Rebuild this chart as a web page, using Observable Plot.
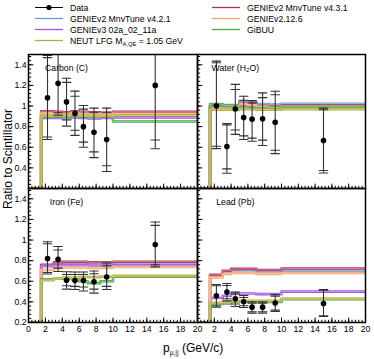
<!DOCTYPE html>
<html><head><meta charset="utf-8">
<script src="https://cdn.jsdelivr.net/npm/d3@7"></script>
<script src="https://cdn.jsdelivr.net/npm/@observablehq/plot@0.6"></script>
<style>
body{margin:0;background:#fff;}
#c{position:relative;width:374px;height:359px;overflow:hidden;font-family:"Liberation Sans",Arial,sans-serif;background:#fff;}
#c > svg, #c > .pw{position:absolute;}
</style>
</head><body><div id="c"></div>
<script>
// ---- bins and data positions ----
const binEdges = [0, 1.5, 3, 4, 5, 6, 7, 8.5, 10, 20];
const dataP = [2.25, 3.5, 4.5, 5.5, 6.5, 7.75, 9.25, 15];
const targetNames = ["Carbon (C)", "Water (H₂O)", "Iron (Fe)", "Lead (Pb)"];
const modelNames = ["GENIEv2 MnvTune v4.2.1", "GENIEv3 02a_02_11a", "NEUT LFG M", "GENIEv2 MnvTune v4.3.1", "GENIEv2.12.6", "GiBUU"];
const modelColors = ["#6f98dc", "#a352e6", "#b3ab3a", "#b0305a", "#f3a46c", "#45a848"];

// ---- Carbon ----
const carbonRatio   = [1.08, 1.22, 1.04, 0.93, 0.80, 0.745, 0.675, 1.20];
const carbonStatLo  = [0.70, 0.935, 0.865, 0.765, 0.65, 0.555, 0.42, 0.67];
const carbonStatHi  = [1.47, 1.505, 1.23, 1.095, 0.97, 0.94, 0.94, 1.73];
const carbonTotLo   = [0.675, 0.91, 0.805, 0.715, 0.60, 0.50, 0.365, 0.585];
const carbonTotHi   = [1.49, 1.53, 1.27, 1.145, 1.005, 0.98, 0.98, 1.815];
const carbonV421    = [0, 0.92, 0.915, 0.91, 0.92, 0.915, 0.91, 0.915, 0.905];
const carbonV3      = [0, 0.885, 0.885, 0.88, 0.89, 0.885, 0.88, 0.885, 0.89];
const carbonNEUT    = [0, 0.905, 0.91, 0.91, 0.915, 0.91, 0.905, 0.905, 0.91];
const carbonV431    = [0, 0.95, 0.945, 0.94, 0.95, 0.945, 0.94, 0.935, 0.945];
const carbonV2126   = [0, 0.93, 0.925, 0.92, 0.93, 0.925, 0.92, 0.92, 0.925];
const carbonGiBUU   = [0, 0.895, 0.90, 0.895, 0.91, 0.90, 0.895, 0.90, 0.85];

// ---- Water ----
const waterRatio  = [1.003, 0.607, 0.971, 0.889, 0.873, 0.876, 0.843, 0.666];
const waterStatLo = [0.61, 0.39, 0.767, 0.711, 0.689, 0.669, 0.571, 0.374];
const waterStatHi = [1.42, 0.817, 1.16, 1.056, 1.03, 1.082, 1.109, 0.964];
const waterTotLo  = [0.587, 0.348, 0.725, 0.676, 0.659, 0.617, 0.538, 0.351];
const waterTotHi  = [1.436, 0.83, 1.21, 1.095, 1.053, 1.128, 1.144, 0.98];
const waterV421   = [0, 1.01, 1.01, 1.01, 1.045, 1.04, 1.02, 1.015, 1.022];
const waterV3     = [0, 0.99, 0.985, 0.985, 0.995, 0.99, 0.985, 0.985, 0.985];
const waterNEUT   = [0, 0.965, 0.965, 0.965, 0.97, 0.97, 0.965, 0.965, 0.97];
const waterV431   = [0, 1.0, 1.0, 1.0, 1.03, 1.03, 1.0, 1.0, 1.005];
const waterV2126  = [0, 0.98, 0.975, 0.98, 1.02, 1.01, 0.995, 0.99, 0.995];
const waterGiBUU  = [0, 1.02, 1.005, 1.0, 0.985, 0.975, 0.98, 0.985, 0.99];

// ---- Iron ----
const ironRatio  = [0.821, 0.812, 0.611, 0.608, 0.608, 0.595, 0.641, 0.957];
const ironStatLo = [0.685, 0.728, 0.556, 0.55, 0.544, 0.524, 0.55, 0.76];
const ironStatHi = [0.964, 0.903, 0.666, 0.666, 0.666, 0.673, 0.75, 1.142];
const ironTotLo  = [0.67, 0.695, 0.524, 0.52, 0.505, 0.485, 0.52, 0.74];
const ironTotHi  = [0.984, 0.938, 0.692, 0.69, 0.69, 0.70, 0.777, 1.175];
const ironV421   = [0, 0.75, 0.76, 0.765, 0.765, 0.765, 0.76, 0.76, 0.763];
const ironV3     = [0, 0.745, 0.755, 0.755, 0.755, 0.755, 0.75, 0.75, 0.755];
const ironNEUT   = [0, 0.61, 0.63, 0.635, 0.635, 0.64, 0.64, 0.645, 0.652];
const ironV431   = [0, 0.76, 0.785, 0.79, 0.79, 0.79, 0.785, 0.785, 0.79];
const ironV2126  = [0, 0.71, 0.73, 0.735, 0.735, 0.735, 0.73, 0.73, 0.738];
const ironGiBUU  = [0, 0.62, 0.63, 0.625, 0.62, 0.60, 0.582, 0.60, 0.645];

// ---- Lead ----
const leadRatio  = [0.459, 0.495, 0.43, 0.401, 0.349, 0.349, 0.388, 0.384];
const leadStatLo = [0.362, 0.43, 0.379, 0.362, 0.304, 0.304, 0.32, 0.265];
const leadStatHi = [0.556, 0.559, 0.476, 0.443, 0.388, 0.388, 0.456, 0.514];
const leadTotLo  = [0.349, 0.41, 0.355, 0.346, 0.291, 0.291, 0.307, 0.258];
const leadTotHi  = [0.569, 0.579, 0.495, 0.462, 0.401, 0.401, 0.472, 0.52];
const leadV421   = [0, 0.645, 0.68, 0.695, 0.695, 0.695, 0.685, 0.685, 0.702];
const leadV3     = [0, 0.437, 0.46, 0.482, 0.482, 0.482, 0.475, 0.475, 0.50];
const leadNEUT   = [0, 0.39, 0.40, 0.41, 0.41, 0.41, 0.41, 0.41, 0.43];
const leadV431   = [0, 0.663, 0.702, 0.72, 0.72, 0.72, 0.71, 0.71, 0.724];
const leadV2126  = [0, 0.638, 0.672, 0.68, 0.68, 0.68, 0.672, 0.672, 0.68];
const leadGiBUU  = [0, 0.379, 0.385, 0.404, 0.404, 0.404, 0.40, 0.40, 0.427];

// ---- axis ticks ----
const yDomain = [0.2, 1.5];
const xDomain = [0, 20];
const yMajor = [0.2, 0.4, 0.6, 0.8, 1.0, 1.2, 1.4];
const yMinor = d3.range(0, 33).map(i => 0.2 + i * 0.04);
const xMajor = [0, 2, 4, 6, 8, 10, 12, 14, 16, 18, 20];
const xMinor = d3.range(0, 51).map(i => i * 0.4);

const font = "Liberation Sans, Arial, sans-serif";
const lineShape = {draw(ctx, l) { ctx.moveTo(0, 0); ctx.lineTo(0, -l); }};
const drawOrder = [0, 3, 1, 4, 5, 2]; // indices into model arrays

function panel(o) {
  const pts = dataP.map((x, i) => ({x, y: o.ratio[i], sLo: o.sLo[i], sHi: o.sHi[i], tLo: o.tLo[i], tHi: o.tHi[i]}));
  const marks = [];
  for (const k of drawOrder) {
    const vals = o.mc[k];
    const steps = binEdges.map((e, i) => ({x: e, y: Math.max(vals[Math.min(i, vals.length - 1)], yDomain[0])}));
    marks.push(Plot.line(steps, {x: "x", y: "y", curve: "step-after", stroke: modelColors[k], strokeWidth: 2.6, clip: true}));
    marks.push(Plot.line(steps, {x: "x", y: "y", curve: "step-after", stroke: "white", strokeOpacity: 0.5, strokeWidth: 0.8, clip: true}));
  }
  // error bars
  marks.push(Plot.ruleX(pts, {x: "x", y1: "tLo", y2: "tHi", stroke: "#333", strokeWidth: 1.1, clip: true}));
  for (const key of ["sLo", "sHi", "tLo", "tHi"]) {
    marks.push(Plot.vector(pts, {x: "x", y: key, length: 8.5, rotate: 90, anchor: "middle", shape: lineShape, stroke: "#333", fill: "none", strokeWidth: 1.1, clip: true}));
  }
  marks.push(Plot.dot(pts, {x: "x", y: "y", r: 2.8, fill: "black", clip: true}));
  // frame + ticks
  marks.push(Plot.vector(yMajor, {x: 0, y: d => d, length: 4.5, rotate: 90, anchor: "start", shape: lineShape, stroke: "black", fill: "none", strokeWidth: 1}));
  marks.push(Plot.vector(yMinor, {x: 0, y: d => d, length: 2.3, rotate: 90, anchor: "start", shape: lineShape, stroke: "black", fill: "none", strokeWidth: 1}));
  marks.push(Plot.vector(xMajor, {x: d => d, y: yDomain[0], length: 4.5, anchor: "start", shape: lineShape, stroke: "black", fill: "none", strokeWidth: 1}));
  marks.push(Plot.vector(xMinor, {x: d => d, y: yDomain[0], length: 2.3, anchor: "start", shape: lineShape, stroke: "black", fill: "none", strokeWidth: 1}));
  marks.push(Plot.frame({stroke: "black", strokeWidth: 1.5}));
  marks.push(Plot.text([o.name], {x: 4.5, y: 1.37, text: d => d, fontSize: 8.7, fill: "black"}));
  if (o.yLabels) marks.push(Plot.axisY({ticks: o.yLabels, tickSize: 0, tickPadding: 2, fontSize: 8.7, label: null, tickFormat: d => d === 1 ? "1" : d3.format(".1f")(d), fill: "black"}));
  if (o.xLabels) marks.push(Plot.axisX({ticks: o.xLabels, tickSize: 0, tickPadding: 3.5, fontSize: 8.7, label: null, tickFormat: d => String(d), fill: "black"}));
  const p = Plot.plot({
    width: o.w, height: o.h, margin: 0,
    x: {domain: xDomain, axis: o.xLabels ? undefined : null},
    y: {domain: yDomain, axis: o.yLabels ? undefined : null},
    style: {overflow: "visible", background: "transparent", fontFamily: font, color: "black"},
    marks
  });
  p.style.position = "absolute";
  p.style.left = o.left + "px";
  p.style.top = o.top + "px";
  p.style.overflow = "visible";
  p.style.maxWidth = "none";
  return p;
}

const c = document.getElementById("c");
const cfgs = [
  {name: targetNames[0], ratio: carbonRatio, sLo: carbonStatLo, sHi: carbonStatHi, tLo: carbonTotLo, tHi: carbonTotHi,
   mc: [carbonV421, carbonV3, carbonNEUT, carbonV431, carbonV2126, carbonGiBUU], left: 28, top: 54, w: 169, h: 134,
   yLabels: [0.4, 0.6, 0.8, 1.0, 1.2, 1.4], xLabels: null},
  {name: targetNames[1], ratio: waterRatio, sLo: waterStatLo, sHi: waterStatHi, tLo: waterTotLo, tHi: waterTotHi,
   mc: [waterV421, waterV3, waterNEUT, waterV431, waterV2126, waterGiBUU], left: 197, top: 54, w: 168, h: 134,
   yLabels: null, xLabels: null},
  {name: targetNames[2], ratio: ironRatio, sLo: ironStatLo, sHi: ironStatHi, tLo: ironTotLo, tHi: ironTotHi,
   mc: [ironV421, ironV3, ironNEUT, ironV431, ironV2126, ironGiBUU], left: 28, top: 188, w: 169, h: 134,
   yLabels: [0.2, 0.4, 0.6, 0.8, 1.0, 1.2, 1.4], xLabels: [0, 2, 4, 6, 8, 10, 12, 14, 16, 18, 20]},
  {name: targetNames[3], ratio: leadRatio, sLo: leadStatLo, sHi: leadStatHi, tLo: leadTotLo, tHi: leadTotHi,
   mc: [leadV421, leadV3, leadNEUT, leadV431, leadV2126, leadGiBUU], left: 197, top: 188, w: 168, h: 134,
   yLabels: null, xLabels: [2, 4, 6, 8, 10, 12, 14, 16, 18, 20]}
];
for (const o of cfgs) c.appendChild(panel(o));

// ---- overlay: legend and axis titles ----
const svg = d3.select(c).append("svg").attr("width", 374).attr("height", 359)
  .style("left", "0px").style("top", "0px").style("pointer-events", "none")
  .attr("font-family", font);
const legendRows = [
  {col: 0, row: 0, label: "Data", color: "black", data: true},
  {col: 0, row: 1, label: modelNames[0], color: modelColors[0]},
  {col: 0, row: 2, label: modelNames[1], color: modelColors[1]},
  {col: 0, row: 3, label: modelNames[2], color: modelColors[2], neut: true},
  {col: 1, row: 0, label: modelNames[3], color: modelColors[3]},
  {col: 1, row: 1, label: modelNames[4], color: modelColors[4]},
  {col: 1, row: 2, label: modelNames[5], color: modelColors[5]}
];
const colX = [35, 212];
for (const e of legendRows) {
  const x0 = colX[e.col], y0 = 7.5 + e.row * 11;
  svg.append("line").attr("x1", x0).attr("x2", x0 + 28).attr("y1", y0).attr("y2", y0)
    .attr("stroke", e.color).attr("stroke-width", e.data ? 1 : 1.3);
  if (e.data) svg.append("circle").attr("cx", x0 + 14).attr("cy", y0).attr("r", 2.6).attr("fill", "black");
  const t = svg.append("text").attr("x", x0 + 35).attr("y", y0 + 3.1).attr("font-size", 8.7).attr("fill", "black");
  if (e.neut) {
    t.append("tspan").text(e.label);
    t.append("tspan").attr("font-size", 5.8).attr("dy", 2).text("A,QE");
    t.append("tspan").attr("dy", -2).text(" = 1.05 GeV");
  } else t.text(e.label);
}
svg.append("text").attr("transform", "translate(11.5,159) rotate(-90)").attr("text-anchor", "middle")
  .attr("font-size", 12).attr("fill", "black").text("Ratio to Scintillator");
const xt = svg.append("text").attr("x", 163).attr("y", 352).attr("font-size", 12).attr("fill", "black");
xt.append("tspan").text("p");
xt.append("tspan").attr("font-size", 6.5).attr("dy", 3).text("μ,||");
xt.append("tspan").attr("dy", -3).text(" (GeV/c)");
</script>
</body></html>
